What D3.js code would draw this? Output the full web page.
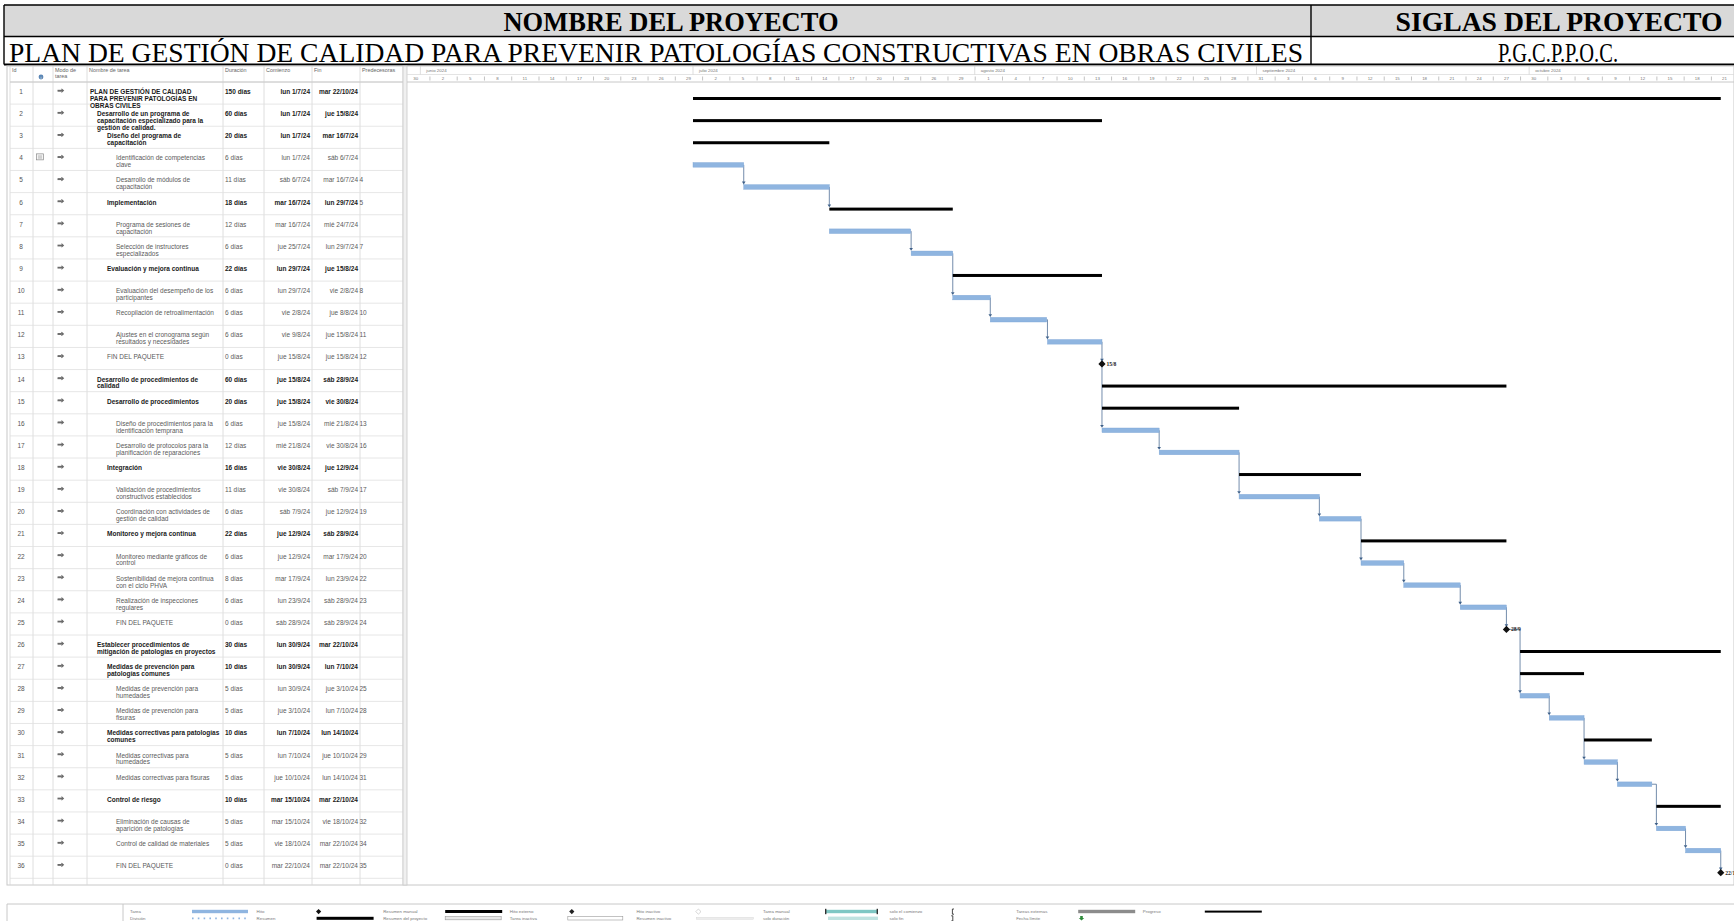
<!DOCTYPE html>
<html lang="es">
<head>
<meta charset="utf-8">
<title>Plan de gestión de calidad — diagrama de Gantt</title>
<script src="https://cdn.jsdelivr.net/npm/d3@7/dist/d3.min.js"></script>
<style>
html,body{margin:0;padding:0;background:#fff;}
svg{display:block;font-family:"Liberation Sans",Arial,sans-serif;}
.serif{font-family:"Liberation Serif","Times New Roman",serif;}
</style>
</head>
<body>
<svg id="chart" width="1734" height="921"></svg>
<script>
// ---------- project identification ----------
const headerLabels = ["NOMBRE DEL PROYECTO", "SIGLAS DEL PROYECTO"];
const headerValues = ["PLAN DE GESTIÓN DE CALIDAD PARA PREVENIR PATOLOGÍAS CONSTRUCTIVAS EN OBRAS CIVILES", "P.G.C.P.P.O.C."];

// ---------- table columns ----------
const columnTitles = ["Id", "", "Modo de\ntarea", "Nombre de tarea", "Duración", "Comienzo", "Fin", "Predecesoras"];

// ---------- tasks ----------
const taskIds = [1,2,3,4,5,6,7,8,9,10,11,12,13,14,15,16,17,18,19,20,21,22,23,24,25,26,27,28,29,30,31,32,33,34,35,36];
const taskNames = [
  "PLAN DE GESTIÓN DE CALIDAD\nPARA PREVENIR PATOLOGÍAS EN\nOBRAS CIVILES",
  "Desarrollo de un programa de\ncapacitación especializado para la\ngestión de calidad.",
  "Diseño del programa de\ncapacitación",
  "Identificación de competencias\nclave",
  "Desarrollo de módulos de\ncapacitación",
  "Implementación",
  "Programa de sesiones de\ncapacitación",
  "Selección de instructores\nespecializados",
  "Evaluación y mejora continua",
  "Evaluación del desempeño de los\nparticipantes",
  "Recopilación de retroalimentación",
  "Ajustes en el cronograma según\nresultados y necesidades",
  "FIN DEL PAQUETE",
  "Desarrollo de procedimientos de\ncalidad",
  "Desarrollo de procedimientos",
  "Diseño de procedimientos para la\nidentificación temprana",
  "Desarrollo de protocolos para la\nplanificación de reparaciones",
  "Integración",
  "Validación de procedimientos\nconstructivos establecidos",
  "Coordinación con actividades de\ngestión de calidad",
  "Monitoreo y mejora continua",
  "Monitoreo mediante gráficos de\ncontrol",
  "Sostenibilidad de mejora continua\ncon el ciclo PHVA",
  "Realización de inspecciones\nregulares",
  "FIN DEL PAQUETE",
  "Establecer procedimientos de\nmitigación de patologías en proyectos",
  "Medidas de prevención para\npatologías comunes",
  "Medidas de prevención para\nhumedades",
  "Medidas de prevención para\nfisuras",
  "Medidas correctivas para patologías\ncomunes",
  "Medidas correctivas para\nhumedades",
  "Medidas correctivas para fisuras",
  "Control de riesgo",
  "Eliminación de causas de\naparición de patologías",
  "Control de calidad de materiales",
  "FIN DEL PAQUETE"
];
const outlineLevels = [0,1,2,3,3,2,3,3,2,3,3,3,2,1,2,3,3,2,3,3,2,3,3,3,3,1,2,3,3,2,3,3,2,3,3,3];
const taskKinds = ["summary","summary","summary","task","task","summary","task","task","summary","task","task","task","milestone",
  "summary","summary","task","task","summary","task","task","summary","task","task","task","milestone",
  "summary","summary","task","task","summary","task","task","summary","task","task","milestone"];
const durations = ["150 días","60 días","20 días","6 días","11 días","18 días","12 días","6 días","22 días","6 días","6 días","6 días","0 días",
  "60 días","20 días","6 días","12 días","16 días","11 días","6 días","22 días","6 días","8 días","6 días","0 días",
  "30 días","10 días","5 días","5 días","10 días","5 días","5 días","10 días","5 días","5 días","0 días"];
const starts = [
  "2024-07-01T00:00","2024-07-01T00:00","2024-07-01T00:00","2024-07-01T00:00","2024-07-06T14:00","2024-07-16T00:00",
  "2024-07-16T00:00","2024-07-25T00:00","2024-07-29T14:00","2024-07-29T14:00","2024-08-02T17:00","2024-08-09T00:00",
  "2024-08-15T00:00","2024-08-15T00:00","2024-08-15T00:00","2024-08-15T00:00","2024-08-21T07:00","2024-08-30T02:00",
  "2024-08-30T02:00","2024-09-07T22:00","2024-09-12T12:00","2024-09-12T12:00","2024-09-17T05:00","2024-09-23T10:00",
  "2024-09-28T12:00","2024-09-30T00:00","2024-09-30T00:00","2024-09-30T00:00","2024-10-03T05:00","2024-10-07T01:00",
  "2024-10-07T01:00","2024-10-10T17:00","2024-10-15T00:00","2024-10-15T00:00","2024-10-18T05:00","2024-10-22T02:00"
];
const finishes = [
  "2024-10-22T02:00","2024-08-15T00:00","2024-07-16T00:00","2024-07-06T14:00","2024-07-16T00:00","2024-07-29T14:00",
  "2024-07-24T23:00","2024-07-29T14:00","2024-08-15T00:00","2024-08-02T17:00","2024-08-08T22:00","2024-08-15T00:00",
  "2024-08-15T00:00","2024-09-28T12:00","2024-08-30T02:00","2024-08-21T07:00","2024-08-30T02:00","2024-09-12T12:00",
  "2024-09-07T22:00","2024-09-12T12:00","2024-09-28T12:00","2024-09-17T05:00","2024-09-23T10:00","2024-09-28T12:00",
  "2024-09-28T12:00","2024-10-22T02:00","2024-10-07T01:00","2024-10-03T05:00","2024-10-07T01:00","2024-10-14T12:00",
  "2024-10-10T17:00","2024-10-14T12:00","2024-10-22T02:00","2024-10-18T05:00","2024-10-22T02:00","2024-10-22T02:00"
];
const predecessors = ["","","","","4","5","","7","","8","10","11","12","","","13","16","","17","19","","20","22","23","24",
  "","","25","28","","29","31","","32","34","35"];
const noteRows = [4];

// ---------- timescale ----------
const monthLabels = ["mayo 2024","junio 2024","julio 2024","agosto 2024","septiembre 2024","octubre 2024"];
const monthStarts = ["2024-05-01","2024-06-01","2024-07-01","2024-08-01","2024-09-01","2024-10-01"];
const dayTickFirst = "2024-05-30";
const dayTickLast = "2024-10-25";
const dayTickStep = 3;

// ---------- legend ----------
const legendTop = ["Tarea","Hito","Resumen manual","Hito externo","Hito inactivo","Tarea manual","solo el comienzo","Tareas externas","Progreso"];
const legendBottom = ["División","Resumen","Resumen del proyecto","Tarea inactiva","Resumen inactivo","solo duración","solo fin","Fecha límite",""];

// ================= drawing =================
const svg = d3.select("#chart");
const parseT = d3.timeParse("%Y-%m-%dT%H:%M");
const parseD = d3.timeParse("%Y-%m-%d");
const dayNames = ["dom","lun","mar","mié","jue","vie","sáb"];
const fmtDate = d => `${dayNames[d.getDay()]} ${d.getDate()}/${d.getMonth()+1}/${String(d.getFullYear()).slice(2)}`;
const fmtShort = d => `${d.getDate()}/${d.getMonth()+1}`;

const tasks = taskIds.map((id, i) => ({
  id, name: taskNames[i], level: outlineLevels[i], kind: taskKinds[i], dur: durations[i],
  start: parseT(starts[i]), finish: parseT(finishes[i]),
  preds: predecessors[i] ? predecessors[i].split(";").map(Number) : [],
  note: noteRows.includes(id)
}));

// ---------- title block ----------
const hb = {left: 4, right: 1740, top: 5, mid: 36.5, bottom: 64.5, split: 1311};
const head = svg.append("g").attr("class", "serif");
head.append("rect").attr("x", hb.left).attr("y", hb.top).attr("width", hb.right - hb.left).attr("height", hb.mid - hb.top)
  .attr("fill", "#d9d9d9");
head.append("path")
  .attr("d", `M${hb.left},${hb.top}H${hb.right}M${hb.left},${hb.mid}H${hb.right}M${hb.left},${hb.top}V${hb.bottom}M${hb.split},${hb.top}V${hb.bottom}`)
  .attr("stroke", "#000").attr("stroke-width", 1.4).attr("fill", "none");
head.append("path").attr("d", `M${hb.left},${hb.bottom}H${hb.right}`).attr("stroke", "#000").attr("stroke-width", 2.2);

const headTexts = [
  {t: headerLabels[0], cx: 671, y: 31, w: 335, bold: true},
  {t: headerLabels[1], cx: 1559, y: 31, w: 327, bold: true},
  {t: headerValues[0], cx: 656, y: 61.5, w: 1294, bold: false},
  {t: headerValues[1], cx: 1558, y: 61.5, w: 120, bold: false}
];
headTexts.forEach(h => {
  head.append("text").attr("x", h.cx).attr("y", h.y).attr("text-anchor", "middle")
    .attr("font-size", 28).attr("font-weight", h.bold ? "bold" : "normal").attr("fill", "#000")
    .attr("textLength", h.w).attr("lengthAdjust", "spacingAndGlyphs").text(h.t);
});

// ---------- layout ----------
const table = {left: 10, right: 403, headTop: 66, headBottom: 82, bottom: 885};
const colEdges = [10, 33, 53, 87, 223, 264, 312, 360, 403];
const rowH = 22.12;
const rowTop = i => table.headBottom + i * rowH;
const barY = i => rowTop(i) + 16.5;
const indentX = [90, 97, 107, 116];
const chartLeft = 407, chartRight = 1734;

const x = d3.scaleTime()
  .domain([parseT("2024-07-01T00:00"), parseT("2024-10-22T00:00")])
  .range([693, 1720]);

// ---------- table grid ----------
const grid = svg.append("g");
grid.append("rect").attr("x", 7).attr("y", table.headTop).attr("width", chartRight - 7).attr("height", table.bottom - table.headTop)
  .attr("fill", "none").attr("stroke", "#c8c8c8").attr("stroke-width", 1);
grid.selectAll("line.col").data(colEdges).join("line")
  .attr("x1", d => d).attr("x2", d => d).attr("y1", table.headTop).attr("y2", table.bottom)
  .attr("stroke", "#d6d6d6").attr("stroke-width", 0.8);
grid.selectAll("line.row").data(d3.range(tasks.length + 1)).join("line")
  .attr("x1", table.left).attr("x2", table.right).attr("y1", i => rowTop(i)).attr("y2", i => rowTop(i))
  .attr("stroke", "#e0e0e0").attr("stroke-width", 0.8);
grid.append("line").attr("x1", table.left).attr("x2", chartRight).attr("y1", table.headBottom).attr("y2", table.headBottom)
  .attr("stroke", "#c8c8c8");
grid.append("rect").attr("x", table.right).attr("y", table.headTop).attr("width", chartLeft - table.right).attr("height", table.bottom - table.headTop)
  .attr("fill", "#f0f0f0").attr("stroke", "#c8c8c8").attr("stroke-width", 0.8);

// column titles
const titles = svg.append("g").attr("font-size", 5.4).attr("fill", "#666");
columnTitles.forEach((t, i) => {
  if (!t) return;
  const lines = t.split("\n");
  lines.forEach((ln, k) => titles.append("text").attr("x", colEdges[i] + 2).attr("y", 72 + k * 5.6).text(ln));
});
// information glyph in the indicator column title
titles.append("circle").attr("cx", 41).attr("cy", 77).attr("r", 2.4).attr("fill", "#5b86b5");
titles.append("text").attr("x", 41).attr("y", 78.6).attr("text-anchor", "middle").attr("font-size", 4).attr("fill", "#fff").text("i");

// ---------- table rows ----------
const rows = svg.append("g").selectAll("g").data(tasks).join("g")
  .attr("transform", (d, i) => `translate(0,${rowTop(i)})`);
const fs = 6.5;
rows.append("text").attr("x", 21).attr("y", 12).attr("text-anchor", "middle").attr("font-size", fs).attr("fill", "#555")
  .text(d => d.id);
// task mode glyph
rows.append("path").attr("d", "M58,8.6h5.2M61.4,6.9l2,1.7l-2,1.7").attr("stroke", "#6a6a6a").attr("stroke-width", 1.1).attr("fill", "none");
rows.append("rect").attr("x", 57.5).attr("y", 7.8).attr("width", 4).attr("height", 1.8).attr("fill", "#6a6a6a");
// note indicator
rows.filter(d => d.note).append("g").call(g => {
  g.append("rect").attr("x", 36.5).attr("y", 5.5).attr("width", 7).attr("height", 6).attr("fill", "#f4f4f4").attr("stroke", "#8a8a8a").attr("stroke-width", 0.7);
  g.append("path").attr("d", "M38,7.7h4M38,9.6h4").attr("stroke", "#8a8a8a").attr("stroke-width", 0.6);
});
rows.each(function(d) {
  const g = d3.select(this);
  const bold = d.kind === "summary";
  const col = bold ? "#1a1a1a" : "#5a5a5a";
  const wt = bold ? "bold" : "normal";
  const t = g.append("text").attr("font-size", fs).attr("font-weight", wt).attr("fill", col);
  d.name.split("\n").forEach((ln, k) => t.append("tspan").attr("x", indentX[d.level]).attr("y", 12 + k * 6.9).text(ln));
  g.append("text").attr("x", 225).attr("y", 12).attr("font-size", fs).attr("font-weight", wt).attr("fill", col).text(d.dur);
  g.append("text").attr("x", 310).attr("y", 12).attr("text-anchor", "end").attr("font-size", fs).attr("font-weight", wt).attr("fill", col).text(fmtDate(d.start));
  g.append("text").attr("x", 358).attr("y", 12).attr("text-anchor", "end").attr("font-size", fs).attr("font-weight", wt).attr("fill", col).text(fmtDate(d.finish));
  if (d.preds.length) g.append("text").attr("x", 359.5).attr("y", 12).attr("font-size", fs).attr("fill", "#5a5a5a").text(d.preds.join(";"));
});

// ---------- timescale ----------
svg.append("clipPath").attr("id", "chartClip").append("rect")
  .attr("x", chartLeft).attr("y", table.headTop).attr("width", chartRight - chartLeft).attr("height", table.bottom - table.headTop);
const ts = svg.append("g").attr("clip-path", "url(#chartClip)");
ts.append("line").attr("x1", chartLeft).attr("x2", chartRight).attr("y1", 74.5).attr("y2", 74.5).attr("stroke", "#d8d8d8").attr("stroke-width", 0.7);
const months = monthStarts.map(parseD);
ts.selectAll("line.m").data(months).join("line")
  .attr("x1", d => x(d)).attr("x2", d => x(d)).attr("y1", table.headTop).attr("y2", 74.5).attr("stroke", "#cfcfcf").attr("stroke-width", 0.7);
ts.selectAll("text.m").data(months).join("text")
  .attr("x", d => x(d) + 6).attr("y", 72.3).attr("font-size", 4.4).attr("fill", "#777").text((d, i) => monthLabels[i]);

const dayTicks = d3.timeDay.range(parseD(dayTickFirst), parseD(dayTickLast)).filter((d, i) => i % dayTickStep === 0);
const dayAxis = d3.axisBottom(x).tickValues(dayTicks).tickSize(4).tickFormat("");
const axG = ts.append("g").attr("transform", "translate(0,76.5)").call(dayAxis);
axG.select(".domain").remove();
axG.selectAll(".tick line").attr("stroke", "#9a9a9a").attr("stroke-width", 0.6);
const labelTicks = dayTicks.filter(d => x(d3.timeHour.offset(d, 36)) < chartRight - 4);
ts.selectAll("text.d").data(labelTicks).join("text")
  .attr("x", d => x(d3.timeHour.offset(d, 36))).attr("y", 80.3).attr("text-anchor", "middle")
  .attr("font-size", 4.4).attr("fill", "#777").text(d => d.getDate());

// ---------- bars ----------
const plot = svg.append("g").attr("clip-path", "url(#chartClip)");
const barH = {task: 4.6, summary: 3};
const byId = new Map(tasks.map((t, i) => [t.id, {t, i}]));

// dependency links
const links = [];
tasks.forEach((t, i) => t.preds.forEach(p => {
  const src = byId.get(p);
  links.push({x0: x(src.t.finish), y0: barY(src.i), x1: x(t.start), y1: barY(i) - (barH[t.kind] || 4) / 2 - 0.3});
}));
plot.selectAll("path.link").data(links).join("path")
  .attr("d", d => `M${d.x0},${d.y0}H${Math.max(d.x0, d.x1)}V${d.y1 - 2.4}`)
  .attr("fill", "none").attr("stroke", "#4f6f96").attr("stroke-width", 0.8);
plot.selectAll("path.arrow").data(links).join("path")
  .attr("d", d => { const ax = Math.max(d.x0, d.x1); return `M${ax - 1.8},${d.y1 - 2.8}L${ax + 1.8},${d.y1 - 2.8}L${ax},${d.y1}Z`; })
  .attr("fill", "#3d5f88");

plot.selectAll("rect.task").data(tasks.map((t, i) => ({t, i})).filter(d => d.t.kind === "task")).join("rect")
  .attr("x", d => x(d.t.start)).attr("width", d => x(d.t.finish) - x(d.t.start))
  .attr("y", d => barY(d.i) - barH.task / 2).attr("height", barH.task)
  .attr("fill", "#8fb5e0").attr("stroke", "#7aa4d4").attr("stroke-width", 0.4);

plot.selectAll("rect.sum").data(tasks.map((t, i) => ({t, i})).filter(d => d.t.kind === "summary")).join("rect")
  .attr("x", d => x(d.t.start)).attr("width", d => x(d.t.finish) - x(d.t.start))
  .attr("y", d => barY(d.i) - barH.summary / 2).attr("height", barH.summary)
  .attr("fill", "#000");

const ms = tasks.map((t, i) => ({t, i})).filter(d => d.t.kind === "milestone");
plot.selectAll("path.ms").data(ms).join("path")
  .attr("d", d => { const cx = x(d.t.start), cy = barY(d.i); return `M${cx},${cy - 3.6}L${cx + 3.6},${cy}L${cx},${cy + 3.6}L${cx - 3.6},${cy}Z`; })
  .attr("fill", "#111");
plot.selectAll("text.ms").data(ms).join("text")
  .attr("class", "serif")
  .attr("x", d => x(d.t.start) + 4.5).attr("y", d => barY(d.i) + 1.8)
  .attr("font-size", 5.6).attr("font-weight", "bold").attr("fill", "#222").text(d => fmtShort(d.t.start));

// ---------- legend ----------
const lg = svg.append("g").attr("font-size", 4.4).attr("fill", "#777");
lg.append("line").attr("x1", 7).attr("x2", chartRight).attr("y1", 904).attr("y2", 904).attr("stroke", "#c8c8c8");
lg.append("line").attr("x1", 7).attr("x2", 7).attr("y1", 904).attr("y2", 921).attr("stroke", "#c8c8c8");
lg.append("line").attr("x1", 123).attr("x2", 123).attr("y1", 904).attr("y2", 921).attr("stroke", "#c8c8c8");
const lgX = i => 130 + i * 126.6;
const rowY = [911.6, 918.4];
legendTop.forEach((t, i) => lg.append("text").attr("x", lgX(i)).attr("y", rowY[0] + 1.5).text(t));
legendBottom.forEach((t, i) => t && lg.append("text").attr("x", lgX(i)).attr("y", rowY[1] + 1.5).text(t));
const sx = i => lgX(i) + 62;
const sym = svg.append("g");
// Tarea / División
sym.append("rect").attr("x", sx(0)).attr("y", rowY[0] - 1.8).attr("width", 56).attr("height", 3.4).attr("fill", "#8fb5e0");
sym.append("line").attr("x1", sx(0)).attr("x2", sx(0) + 56).attr("y1", rowY[1]).attr("y2", rowY[1]).attr("stroke", "#8fb5e0").attr("stroke-width", 1.6).attr("stroke-dasharray", "1.6,4.2");
// Hito / Resumen
sym.append("path").attr("d", `M${sx(1)},${rowY[0] - 2.6}l2.6,2.6l-2.6,2.6l-2.6,-2.6Z`).attr("fill", "#111");
sym.append("rect").attr("x", sx(1) - 2).attr("y", rowY[1] - 1.6).attr("width", 57).attr("height", 3).attr("fill", "#000");
// Resumen manual / Resumen del proyecto
sym.append("rect").attr("x", sx(2)).attr("y", rowY[0] - 1.6).attr("width", 57).attr("height", 3).attr("fill", "#000");
sym.append("rect").attr("x", sx(2)).attr("y", rowY[1] - 1.8).attr("width", 56).attr("height", 3.2).attr("fill", "#e6e6e6").attr("stroke", "#9a9a9a").attr("stroke-width", 0.6);
// Hito externo / Tarea inactiva
sym.append("path").attr("d", `M${sx(3)},${rowY[0] - 2.6}l2.6,2.6l-2.6,2.6l-2.6,-2.6Z`).attr("fill", "#222");
sym.append("rect").attr("x", sx(3) - 4).attr("y", rowY[1] - 1.8).attr("width", 55).attr("height", 3.4).attr("fill", "#fff").attr("stroke", "#9a9a9a").attr("stroke-width", 0.6);
// Hito inactivo / Resumen inactivo
sym.append("path").attr("d", `M${sx(4)},${rowY[0] - 2.6}l2.6,2.6l-2.6,2.6l-2.6,-2.6Z`).attr("fill", "#fff").attr("stroke", "#bbb").attr("stroke-width", 0.6);
sym.append("rect").attr("x", sx(4) - 2).attr("y", rowY[1] - 1).attr("width", 57).attr("height", 1.8).attr("fill", "#ececec").attr("stroke", "#d2d2d2").attr("stroke-width", 0.4);
// Tarea manual / solo duración
sym.append("rect").attr("x", sx(5)).attr("y", rowY[0] - 1.8).attr("width", 53).attr("height", 3.4).attr("fill", "#7fc7c4");
sym.append("rect").attr("x", sx(5)).attr("y", rowY[0] - 2.8).attr("width", 1.4).attr("height", 5.4).attr("fill", "#333");
sym.append("rect").attr("x", sx(5) + 51.6).attr("y", rowY[0] - 2.8).attr("width", 1.4).attr("height", 5.4).attr("fill", "#333");
sym.append("rect").attr("x", sx(5) + 3).attr("y", rowY[1] - 1.8).attr("width", 50).attr("height", 3.4).attr("fill", "#bfe2e0");
// solo el comienzo / solo fin
sym.append("path").attr("d", `M${sx(6) + 2.4},${rowY[0] - 2.6}h-1.6v5.2h1.6`).attr("fill", "none").attr("stroke", "#333").attr("stroke-width", 0.9);
sym.append("path").attr("d", `M${sx(6) - 0.4},${rowY[1] - 2.6}h1.6v5.2h-1.6`).attr("fill", "none").attr("stroke", "#333").attr("stroke-width", 0.9);
// Tareas externas / Fecha límite
sym.append("rect").attr("x", sx(7)).attr("y", rowY[0] - 1.8).attr("width", 57).attr("height", 3.4).attr("fill", "#8c8c8c");
sym.append("path").attr("d", `M${sx(7) + 2},${rowY[1] - 2.4}h2.6v2h1.4l-2.7,2.4l-2.7,-2.4h1.4Z`).attr("fill", "#2e8b3a");
// Progreso
sym.append("rect").attr("x", sx(8)).attr("y", rowY[0] - 1).attr("width", 57).attr("height", 2).attr("fill", "#000");
</script>
</body>
</html>
